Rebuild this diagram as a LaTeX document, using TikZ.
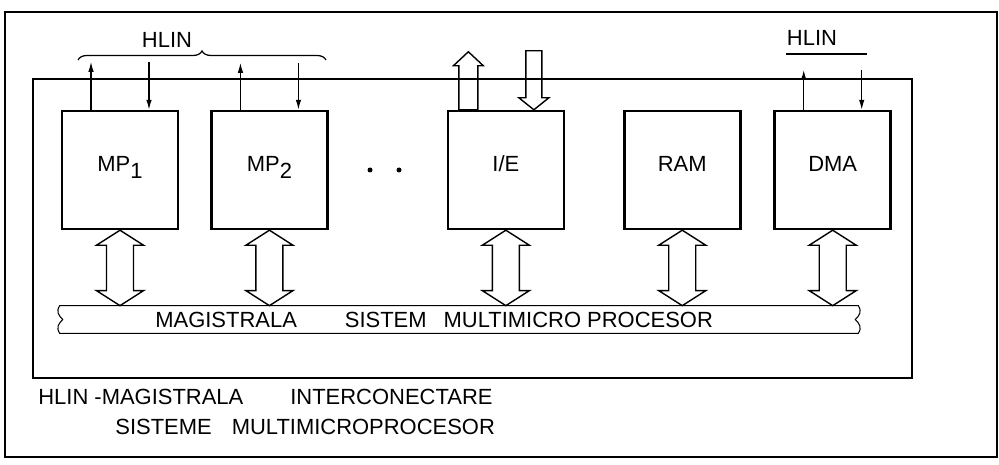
\documentclass[tikz,border=0pt]{standalone}
\usepackage{fontspec}
\setmainfont{Liberation Sans}
\usetikzlibrary{arrows.meta, positioning, calc, decorations.pathreplacing}
\tikzset{
  blkbox/.style={rectangle, draw=black, line width=1.4pt, minimum width=2.32cm, minimum height=2.36cm,
    inner sep=0pt, text height=0.3cm, text depth=0.24cm},
  hlarr/.style={line width=0.7pt, -{Latex[length=2mm, width=1.1mm]}},
  fatarr/.style={line width=0.8pt, line join=miter},
  txt/.style={inner sep=0pt},
}
\newcommand{\lowsub}[1]{\raisebox{-0.6ex}{#1}}
% double hollow arrow from a module down to the bus
\newcommand{\busarrow}[1]{%
  \draw[fatarr] let \p1=(#1.south), \p2=(bus.north) in
    (\x1,\y1) -- (\x1+0.47cm,\y1-0.3cm) -- (\x1+0.27cm,\y1-0.3cm)
    -- (\x1+0.27cm,\y2+0.3cm) -- (\x1+0.47cm,\y2+0.3cm) -- (\x1,\y2)
    -- (\x1-0.47cm,\y2+0.3cm) -- (\x1-0.27cm,\y2+0.3cm)
    -- (\x1-0.27cm,\y1-0.3cm) -- (\x1-0.47cm,\y1-0.3cm) -- cycle;}

\begin{document}
\begin{tikzpicture}[x=0.02cm, y=-0.02cm, font=\fontsize{12.5}{15}\selectfont]
\useasboundingbox (0,0) rectangle (999,465);
% frames
\draw[line width=1.1pt] (5,12) rectangle (997,457);
\draw[line width=0.7pt] (33,79) rectangle (912,378);

% modules
\node[blkbox] (mp1) at (120,170) {MP\lowsub{1}};
\node[blkbox, right=0.62cm of mp1] (mp2) {MP\lowsub{2}};
\node[blkbox, right=2.36cm of mp2] (ie) {I/E};
\node[blkbox, right=1.16cm of ie] (ram) {RAM};
\node[blkbox, right=0.64cm of ram] (dma) {DMA};
\fill (370,170) circle (0.05cm) (399,170) circle (0.05cm);

% system bus
\node[minimum width=15.96cm, minimum height=0.54cm, inner sep=0pt] (bus) at (459,319.5) {};
\draw[line width=0.6pt] (bus.north west) -- (bus.north east)
  .. controls +(4,6) and +(4,-4) .. ([xshift=-0.06cm]bus.east)
  .. controls +(4,4) and +(4,-6) .. (bus.south east)
  -- (bus.south west)
  .. controls +(-4,-6) and +(-4,4) .. ([xshift=0.06cm]bus.west)
  .. controls +(-4,-4) and +(-4,6) .. (bus.north west) -- cycle;
\node[txt, anchor=west] (bustxt) at (155,320) {MAGISTRALA\hspace{0.96cm}SISTEM\hspace{0.34cm}MULTIMICRO PROCESOR};
\foreach \b in {mp1,mp2,ie,ram,dma} \busarrow{\b};

% HLIN links
\foreach \b/\l in {mp1/48, mp2/47, dma/40} {
  \draw[hlarr] ([xshift=-0.58cm]\b.north) -- ++(0,-\l);
  \draw[hlarr] ([xshift=0.58cm]\b.north) ++(0,-\l) -- ([xshift=0.58cm]\b.north);
}
\node (hlin1) at (167,40) {HLIN};
\draw[line width=0.7pt, decorate, decoration={brace, amplitude=0.18cm}] (78,60) -- (326,60);
\node (hlin2) at (812,38) {HLIN};
\draw[line width=0.7pt] (786,54) -- (867,54);

% I/E external lines
\draw[fatarr] ([xshift=-0.75cm]ie.north) ++(-9.5,0) -- ++(0,-44) -- ++(-5.5,0) -- ++(15,-14)
  -- ++(15,14) -- ++(-5.5,0) -- ++(0,44) -- cycle;
\draw[fatarr] ([xshift=0.56cm]ie.north) -- ++(-15,-12) -- ++(7,0) -- ++(0,-47) -- ++(16,0)
  -- ++(0,47) -- ++(7,0) -- cycle;

% legend
\node[txt, anchor=west] (cap1) at (38,397) {HLIN -MAGISTRALA\hspace{0.94cm}INTERCONECTARE};
\node[txt, anchor=west] (cap2) at (115,427) {SISTEME\hspace{0.4cm}MULTIMICROPROCESOR};
\end{tikzpicture}
\end{document}
